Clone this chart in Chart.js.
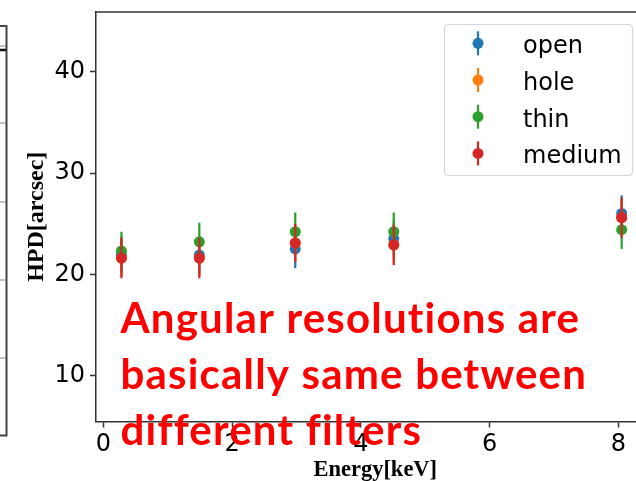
<!DOCTYPE html>
<html lang="en">
<head>
<meta charset="UTF-8">
<title>HPD vs Energy</title>
<script src="https://cdn.jsdelivr.net/npm/chart.js"></script>
<style>
  html, body { margin: 0; padding: 0; background: #fff; overflow: hidden; }
  canvas { display: block; }
</style>
</head>
<body>
<!-- wider than the window so the plot runs past the right edge -->
<canvas id="hpdChart" width="660" height="481"></canvas>
<script>
// energies of the lines used [keV]
const energies = [0.28, 1.49, 2.98, 4.51, 8.05];

const filterNames = ['open', 'hole', 'thin', 'medium'];
const filterColors = ['#1f77b4', '#ff7f0e', '#2ca02c', '#d62728'];

// HPD [arcsec] and its error for every filter
const openHpd = [21.9, 21.9, 22.5, 23.5, 26.0];
const openErr = [1.8, 1.8, 1.9, 1.8, 1.8];
const holeHpd = [21.6, 21.6, 23.1, 22.9, 25.6];
const holeErr = [1.8, 1.8, 1.8, 1.8, 1.8];
const thinHpd = [22.3, 23.2, 24.2, 24.2, 24.4];
const thinErr = [1.9, 1.9, 1.9, 1.9, 1.9];
const mediumHpd = [21.6, 21.6, 23.1, 22.9, 25.6];
const mediumErr = [2.0, 2.0, 1.9, 2.0, 2.0];

const xTicks = [0, 2, 4, 6, 8];
const yTicks = [10, 20, 30, 40];

const noteLines = ['Angular resolutions are', 'basically same between', 'different filters'];

const hpdSeries = [openHpd, holeHpd, thinHpd, mediumHpd];
const errSeries = [openErr, holeErr, thinErr, mediumErr];

const datasets = filterNames.map((name, k) => ({
  label: name,
  data: energies.map((e, i) => ({ x: e, y: hpdSeries[k][i] })),
  errors: errSeries[k],
  backgroundColor: filterColors[k],
  borderWidth: 0,
  pointRadius: 5.5,
  showLine: false,
  order: filterNames.length - k   // later filters end up on top
}));

// vertical error bars, drawn just before each dataset's markers
const errorBars = {
  id: 'errorBars',
  beforeDatasetDraw(chart, args) {
    const ds = chart.data.datasets[args.index];
    const { ctx, scales: { x, y } } = chart;
    ctx.save();
    ctx.strokeStyle = ds.backgroundColor;
    ctx.lineWidth = 2.2;
    ds.data.forEach((p, i) => {
      const px = x.getPixelForValue(p.x);
      ctx.beginPath();
      ctx.moveTo(px, y.getPixelForValue(p.y - ds.errors[i]));
      ctx.lineTo(px, y.getPixelForValue(p.y + ds.errors[i]));
      ctx.stroke();
    });
    ctx.restore();
  }
};

function roundRect(ctx, x, y, w, h, r) {
  ctx.beginPath();
  ctx.moveTo(x + r, y);
  ctx.arcTo(x + w, y, x + w, y + h, r);
  ctx.arcTo(x + w, y + h, x, y + h, r);
  ctx.arcTo(x, y + h, x, y, r);
  ctx.arcTo(x, y, x + w, y, r);
  ctx.closePath();
}

const extras = {
  id: 'extras',
  afterDraw(chart) {
    const { ctx, chartArea: ca } = chart;
    ctx.save();

    // top spine
    ctx.strokeStyle = '#333';
    ctx.lineWidth = 1.5;
    ctx.beginPath();
    ctx.moveTo(ca.left, ca.top);
    ctx.lineTo(ca.right, ca.top);
    ctx.stroke();

    // neighbouring panel edge on the far left
    ctx.strokeStyle = '#444';
    ctx.lineWidth = 2;
    ctx.beginPath();
    ctx.moveTo(0, 26);
    ctx.lineTo(6.5, 26);
    ctx.lineTo(6.5, 435.5);
    ctx.lineTo(0, 435.5);
    ctx.stroke();
    ctx.strokeStyle = '#111';
    ctx.lineWidth = 2.5;
    ctx.beginPath();
    ctx.moveTo(0, 50);
    ctx.lineTo(6, 50);
    ctx.stroke();
    ctx.strokeStyle = '#999';
    ctx.lineWidth = 1.2;
    [46, 123, 202, 280, 358].forEach(v => {
      ctx.beginPath();
      ctx.moveTo(0, v);
      ctx.lineTo(6, v);
      ctx.stroke();
    });

    // legend
    roundRect(ctx, 444.5, 24.5, 188, 151, 4);
    ctx.fillStyle = 'rgba(255,255,255,0.8)';
    ctx.fill();
    ctx.strokeStyle = '#d6d6d6';
    ctx.lineWidth = 1.2;
    ctx.stroke();
    ctx.font = '24px "DejaVu Sans"';
    ctx.textBaseline = 'alphabetic';
    ctx.textAlign = 'left';
    chart.data.datasets.forEach((ds, k) => {
      const base = 53.3 + k * 36.7;
      const cy = base - 10;
      ctx.strokeStyle = ds.backgroundColor;
      ctx.lineWidth = 2.2;
      ctx.beginPath();
      ctx.moveTo(478, cy - 12);
      ctx.lineTo(478, cy + 12);
      ctx.stroke();
      ctx.fillStyle = ds.backgroundColor;
      ctx.beginPath();
      ctx.arc(478, cy, 5.5, 0, Math.PI * 2);
      ctx.fill();
      ctx.fillStyle = '#000';
      ctx.fillText(ds.label, 523, base);
    });

    // red note over the plot (letter spacing also keeps ligatures off)
    ctx.fillStyle = '#ff0000';
    ctx.font = 'bold 42px Lato';
    ctx.letterSpacing = '1.2px';
    noteLines.forEach((line, i) => {
      ctx.fillText(line, 120.5, 333 + i * 56);
    });

    ctx.restore();
  }
};

// keep the plot area fixed: no extra room for end labels
function fixScale(s, size) {
  if (s.isHorizontal()) s.height = size; else s.width = size;
  s.paddingTop = 0;
  s.paddingBottom = 0;
  s.paddingLeft = 0;
  s.paddingRight = 0;
}

const tickFont = { family: 'DejaVu Sans', size: 24 };

new Chart(document.getElementById('hpdChart'), {
  type: 'scatter',
  data: { datasets },
  options: {
    responsive: false,
    animation: false,
    devicePixelRatio: 1,
    layout: { padding: { top: 12, right: 0, bottom: 0, left: 0 } },
    plugins: {
      legend: { display: false },
      tooltip: { enabled: false }
    },
    scales: {
      x: {
        type: 'linear',
        position: 'bottom',
        min: -0.115,
        max: 8.56,
        afterBuildTicks: s => { s.ticks = xTicks.map(v => ({ value: v })); },
        afterFit: s => fixScale(s, 59.5),
        grid: { drawOnChartArea: false, drawTicks: true, tickLength: 6, tickColor: '#333', tickWidth: 1.5 },
        border: { display: true, color: '#333', width: 1.5 },
        ticks: { font: tickFont, color: '#000', padding: 3, maxRotation: 0 },
        title: {
          display: true,
          text: 'Energy[keV]',
          color: '#000',
          font: { family: 'Liberation Serif', size: 22.5, weight: 'bold', lineHeight: 1 },
          padding: { top: 0, bottom: 0 }
        }
      },
      y: {
        type: 'linear',
        min: 5.46,
        max: 45.9,
        afterBuildTicks: s => { s.ticks = yTicks.map(v => ({ value: v })); },
        afterFit: s => fixScale(s, 96),
        grid: { drawOnChartArea: false, drawTicks: true, tickLength: 6, tickColor: '#333', tickWidth: 1.5 },
        border: { display: true, color: '#333', width: 1.5 },
        ticks: { font: tickFont, color: '#000', padding: 5 },
        title: {
          display: true,
          text: 'HPD[arcsec]',
          color: '#000',
          font: { family: 'Liberation Serif', size: 24, weight: 'bold', lineHeight: 1 },
          padding: { top: 25, bottom: 0 }
        }
      }
    }
  },
  plugins: [errorBars, extras]
});
</script>
</body>
</html>
